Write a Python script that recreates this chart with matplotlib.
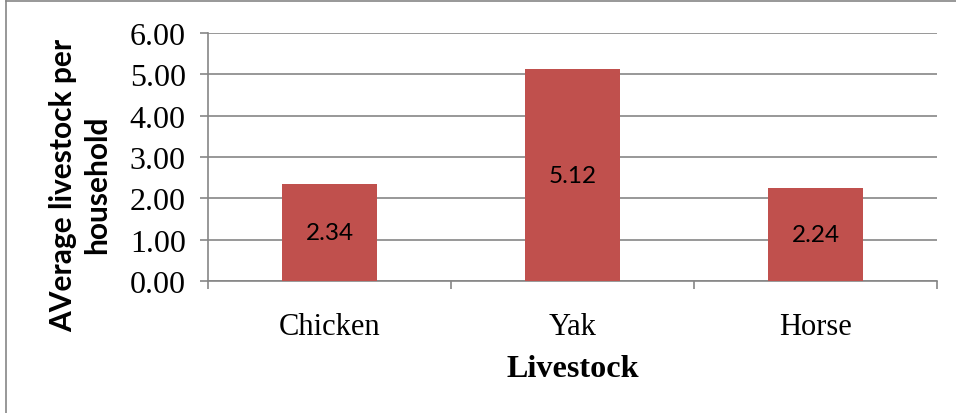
import matplotlib
matplotlib.use("Agg")
import matplotlib.pyplot as plt
from matplotlib.lines import Line2D

categories = ["Chicken", "Yak", "Horse"]
values = [2.34, 5.12, 2.24]
yticks = [0, 1, 2, 3, 4, 5, 6]

W, H = 956, 414
fig = plt.figure(figsize=(W / 100, H / 100), dpi=100)
ax = fig.add_axes([208 / W, 1 - 282 / H, (937 - 208) / W, (282 - 34) / H])

grid_c = "#868686"
bar_c = "#C0504D"
serif = "Liberation Serif"
sans = ["Lato", "DejaVu Sans"]

x = list(range(len(categories)))
bars = ax.bar(x, values, width=0.395, color=bar_c, zorder=3)
for xi, v in zip(x, values):
    ax.text(xi, v / 2, f"{v:.2f}", ha="center", va="center", fontsize=17.5,
            family=sans, color="black", zorder=4)

ax.set_xlim(-0.5, len(categories) - 0.5)
ax.set_ylim(0, 6)
ax.set_yticks(yticks)
ax.set_yticklabels([f"{t:.2f}" for t in yticks], family=serif, fontsize=23)
ax.yaxis.grid(True, color=grid_c, linewidth=1.2, zorder=0)
ax.set_axisbelow(True)

# category ticks at boundaries
ax.set_xticks([i - 0.5 for i in range(len(categories) + 1)], minor=False)
ax.set_xticklabels([])
ax.set_xticks(x, minor=True)
ax.set_xticklabels(categories, minor=True, family=serif, fontsize=22)
ax.tick_params(axis="x", which="major", length=6, width=1.2, color=grid_c, direction="out")
ax.tick_params(axis="x", which="minor", length=0, pad=22)
ax.tick_params(axis="y", length=6, width=1.2, color=grid_c, direction="out", pad=10)

for s in ["top", "right"]:
    ax.spines[s].set_visible(False)
for s in ["left", "bottom"]:
    ax.spines[s].set_color(grid_c)
    ax.spines[s].set_linewidth(1.2)

fig.text(573 / W, 1 - 377 / H, "Livestock", family=serif, fontsize=23.2,
         fontweight="bold", ha="center", va="baseline")
fig.text(80 / W, 1 - 185 / H, "AVerage livestock per\nhousehold", family=sans,
         fontsize=21.5, fontweight="bold", rotation=90, ha="center", va="center",
         multialignment="center", linespacing=1.25)

# outer chart border
fig.add_artist(Line2D([6 / W, 1], [1 - 2 / H, 1 - 2 / H], transform=fig.transFigure,
                      color=grid_c, linewidth=1.2))
fig.add_artist(Line2D([6 / W, 6 / W], [0, 1 - 2 / H], transform=fig.transFigure,
                      color=grid_c, linewidth=1.2))

fig.savefig("out.png", dpi=100)
